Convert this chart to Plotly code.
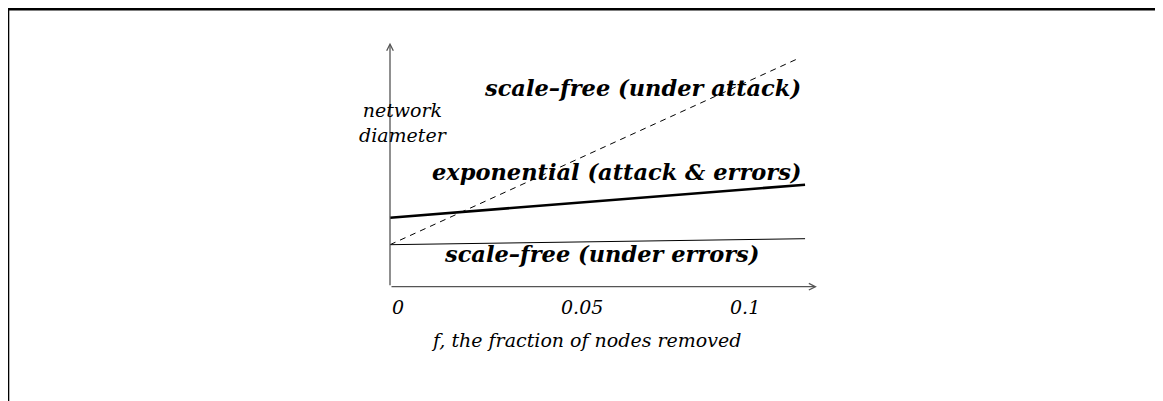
import plotly.graph_objects as go

# fraction of nodes removed
f_start_end = [0, 0.1228]
f_attack = [0, 0.1213]

# network diameter (arbitrary units)
sf_attack = [42, 229]
exp_both = [69, 102]
sf_errors = [42, 48]

x_ticks = [0, 0.05, 0.1]
x_ticklabels = ["0", "0.05", "0.1"]

# the page body adds an 8px margin, so the figure is a bit smaller than the window
W, H = 1155, 393
X_RANGE = [-0.11302, 0.22870]
Y_RANGE = [-114.3, 278.7]

bold_font = dict(family="DejaVu Serif", size=22.5, color="black", weight="bold", style="italic")
plain_font = dict(family="DejaVu Serif", size=19, color="black", style="italic")

fig = go.Figure()

fig.add_trace(go.Scatter(x=f_attack, y=sf_attack, mode="lines",
                         line=dict(color="black", width=1, dash="6px,5px")))
fig.add_trace(go.Scatter(x=f_start_end, y=exp_both, mode="lines",
                         line=dict(color="black", width=2.6)))
fig.add_trace(go.Scatter(x=f_start_end, y=sf_errors, mode="lines",
                         line=dict(color="black", width=1)))

# axes drawn as arrows
axis_arrow = dict(text="", showarrow=True, axref="x", ayref="y", arrowhead=5,
                  arrowsize=1, arrowwidth=1.3, arrowcolor="#555555")
fig.add_annotation(x=0.1263, y=0, ax=0, ay=0, **axis_arrow)
fig.add_annotation(x=0, y=244, ax=0, ay=0, **axis_arrow)

for v, t in zip(x_ticks, x_ticklabels):
    fig.add_annotation(x=v, y=-20, text=t, showarrow=False, xanchor="left",
                       font=plain_font)

fig.add_annotation(x=0.058, y=-53, text="f, the fraction of nodes removed",
                   showarrow=False, font=plain_font)
fig.add_annotation(x=0.0041, y=164, text="network<br>diameter", showarrow=False,
                   font=plain_font)

fig.add_annotation(x=0.1222, y=199, text="scale\u2013free (under attack)",
                   showarrow=False, xanchor="right", font=bold_font)
fig.add_annotation(x=0.1222, y=115, text="exponential (attack &amp; errors)",
                   showarrow=False, xanchor="right", font=bold_font)
fig.add_annotation(x=0.0627, y=33, text="scale\u2013free (under errors)",
                   showarrow=False, font=bold_font)

# frame (only top and left edges are visible)
fig.add_shape(type="line", xref="paper", yref="paper",
              x0=0, x1=1, y0=1 - 1.3 / H, y1=1 - 1.3 / H,
              line=dict(color="black", width=2.6))
fig.add_shape(type="line", xref="paper", yref="paper",
              x0=0, x1=0, y0=1, y1=0,
              line=dict(color="black", width=2.6))

fig.update_xaxes(range=X_RANGE, visible=False)
fig.update_yaxes(range=Y_RANGE, visible=False)
fig.update_layout(width=W, height=H, margin=dict(l=0, r=0, t=0, b=0),
                  showlegend=False, plot_bgcolor="white", paper_bgcolor="white")

fig.write_html("out.html")
